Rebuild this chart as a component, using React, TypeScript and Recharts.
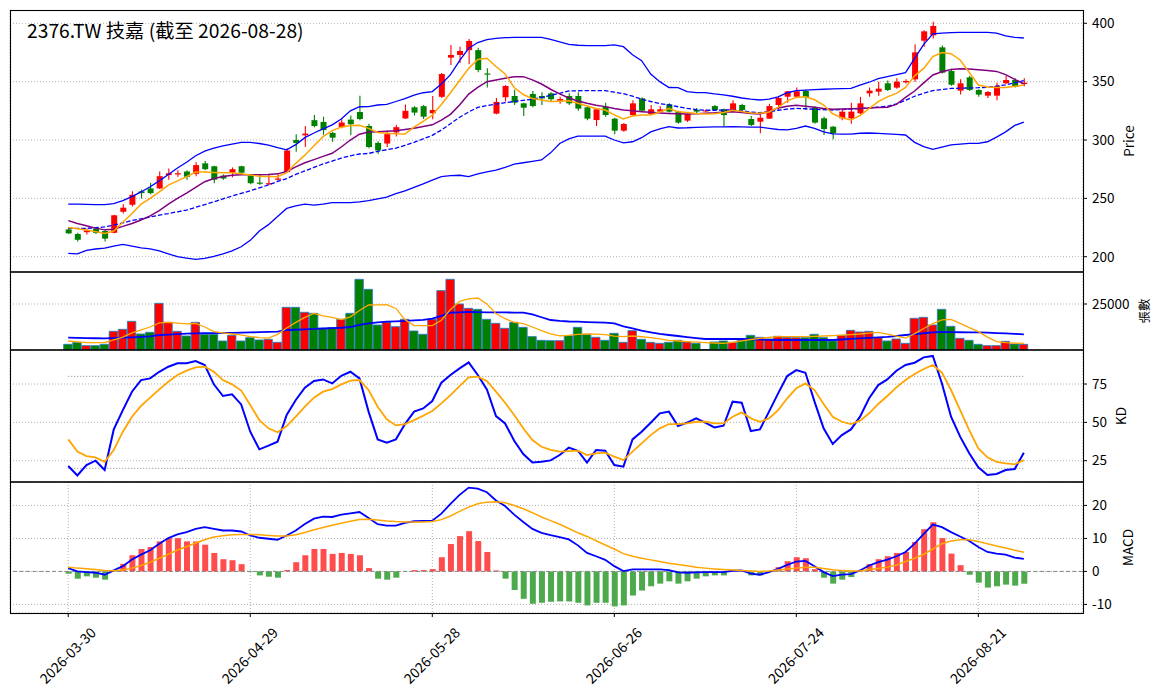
// Technical chart for 2376.TW: candles + BB/MA, volume, KD, MACD

import React from 'react';
import {
  ComposedChart,
  Bar,
  Line,
  XAxis,
  YAxis,
  CartesianGrid,
  ReferenceLine,
  Cell,
} from 'recharts';

// x-axis tick labels (every 20 trading days)
const tickIndex = [0, 20, 40, 60, 80, 100];
const tickLabels = ['2026-03-30', '2026-04-29', '2026-05-28', '2026-06-26', '2026-07-24', '2026-08-21'];

// daily prices
const opens = [
  223.4, 219.5, 221, 224, 222, 220.5, 238.5, 244.5, 256, 258.5,
  258.5, 270, 270.5, 273, 271, 280, 277.5, 269.5, 272, 277.5,
  269.5, 263.5, 262, 266, 272.5, 300, 304, 317, 315.5, 306,
  311, 317.5, 324, 312, 297.5, 297, 306.5, 318.5, 328, 329,
  322.9, 337, 370.6, 372.9, 377, 377, 357, 322.6, 336.6, 337.7,
  331.4, 339.4, 337.7, 340, 333.7, 337.7, 337.7, 328, 317.1, 328.6,
  318.3, 308, 321.4, 335.7, 322.3, 324.3, 330.6, 324.3, 316.6, 325.7,
  325, 329.1, 326.3, 325.7, 330, 318, 315.7, 318.3, 330, 337.1,
  337.1, 342, 328, 318.6, 311.4, 318.6, 318.6, 322.9, 340, 341.4,
  348.6, 344.9, 349.4, 352, 385.1, 389.7, 379.4, 359.1, 342.3, 353.7,
  342.9, 338, 338, 348.6, 351.4, 348,
];
const highs = [
  224.5, 220.5, 224, 225, 223, 236, 245, 256, 257.5, 263.4,
  273, 275.5, 274, 274, 281, 282, 278, 270.5, 276.5, 278,
  270, 270, 271, 271, 293, 305, 312, 321.4, 320, 307,
  318, 321, 338, 314, 299, 308, 313, 330.5, 329, 330,
  337.7, 357.5, 381.4, 380, 386.5, 379, 361.4, 336, 347, 343,
  332, 342, 341, 341, 337, 340, 341, 329, 327, 332,
  319, 314.5, 334, 336.5, 330, 329, 331.5, 325, 323, 327.5,
  326, 330, 327, 334, 331, 320.6, 322, 331, 337, 342,
  345, 343, 329, 320, 312, 326, 332, 337, 345, 350,
  351, 353, 352, 382, 394, 401.4, 381, 361, 352, 355,
  343.5, 342, 349, 355, 353, 352.9,
];
const lows = [
  219.5, 213, 219, 219.5, 213, 220, 237, 243, 250, 253.5,
  258, 266, 268.5, 266, 269, 274, 263, 266, 268, 271,
  262, 261.5, 261.5, 265, 272, 290, 294, 311, 304.5, 298.5,
  310, 304, 317, 293, 288, 294, 303, 318, 321, 318,
  317.7, 336, 364.3, 366, 365, 358, 345, 322, 333, 330,
  320.6, 328, 330, 333, 331, 330, 325, 317, 312, 320,
  305, 307, 321, 324, 321.5, 323.5, 323.5, 314, 315.5, 322.3,
  324, 325, 311.4, 325, 325, 312, 305.7, 318, 326, 332,
  336.5, 325.7, 314, 304.3, 300.6, 317, 314, 322, 337, 338,
  342, 344, 348.5, 350, 380, 387, 357, 346.5, 339, 342,
  337, 336, 334, 348, 345, 346,
];
const closes = [
  220, 214.5, 222.5, 220.5, 215.5, 235.5, 242, 253, 254.5, 254.5,
  269, 271.5, 271.5, 268.5, 278.5, 275, 266, 267, 275, 272,
  263, 262.5, 263, 267, 291, 297.5, 305.5, 312, 308.5, 302,
  315, 313.5, 318, 294, 291, 305, 311, 325, 323.5, 320,
  325.7, 356.5, 372.9, 376.3, 384.9, 360, 356, 332.6, 346.3, 332,
  327.7, 329.1, 335.7, 334.9, 335.1, 331.4, 326.9, 318.3, 326.3, 321.4,
  308, 313.7, 331.4, 325.1, 326.3, 326.3, 324.3, 314.9, 322.3, 324.3,
  325.3, 325.7, 321.4, 331.4, 325.7, 312.9, 319.1, 329.1, 336, 341.7,
  341.7, 336.6, 314.9, 309.4, 305.7, 324.3, 324.3, 331.4, 342.3, 344,
  342.9, 350, 350.6, 375.1, 393.1, 397.7, 357.7, 347.4, 348.6, 342.9,
  338.9, 341.1, 346.3, 351.4, 345.7, 349.1,
];

// moving averages and Bollinger bands as drawn
const ma5 = [
  225, 224, 222.9, 221.5, 220, 222, 229.5, 237, 245, 250,
  255.5, 261.4, 265, 268.6, 272.5, 272.5, 272.2, 272, 272, 271,
  270, 269, 268.8, 268.6, 272, 280, 287, 295, 302.9, 308,
  311, 312.5, 312.6, 310, 306.5, 305.7, 305.3, 305.1, 311, 316,
  321.4, 330.5, 340.5, 351, 361.4, 369, 370, 363, 356.6, 345,
  339, 335.5, 334.3, 332.9, 333.3, 333.7, 331.5, 329.1, 327, 325.7,
  321.5, 318, 320.5, 321.4, 321.4, 324, 326.9, 324.3, 323.5, 322.8,
  322.3, 322.6, 323.5, 325.5, 324.5, 323.2, 322.9, 324, 328, 333.5,
  336.5, 337, 334.5, 330, 322.5, 319, 317.1, 321, 327, 332.9,
  337, 340, 345, 355, 361.4, 371.5, 375, 374, 368.6, 358,
  347.1, 345.5, 345.1, 345.1, 346, 347.1,
];
const ma10 = [
  230.9, 228.5, 226.5, 224.5, 223, 223.5, 226, 228.5, 231.5, 235,
  239.5, 245, 250, 254.5, 259.5, 264.3, 267, 268.8, 269.8, 270.3,
  270.3, 270.3, 270.5, 271, 273, 277, 280.5, 283.2, 286, 288.6,
  294, 300, 305, 306.8, 307, 307.5, 308, 309, 310, 311.5,
  313, 317, 322, 330, 339.4, 345, 350, 351.5, 352.9, 354.2,
  354.3, 351.5, 348, 343.5, 339.5, 336, 333.5, 331.5, 329.8, 328.6,
  327, 325.8, 325, 324.3, 323.7, 323.2, 322.8, 322.5, 322.3, 322.6,
  323, 323.3, 323.8, 324.3, 323.5, 322.8, 322.3, 324.5, 327.5, 329,
  329.7, 329, 328, 327, 326.3, 326.5, 326.8, 327.1, 327.5, 327.8,
  328, 330.5, 336.5, 342, 349, 355.7, 358.5, 360.5, 361.1, 360.8,
  360.3, 359.6, 358.8, 356, 352, 348,
];
const bbUpper = [
  245.1, 245, 244.8, 244.6, 244.6, 245.5, 248, 251.5, 255.5, 260,
  265, 270.5, 276, 281, 286.5, 290.5, 293, 295, 296.5, 298,
  298, 297, 295.7, 293.5, 291.5, 296, 302, 306, 309.5, 313,
  318, 325, 328.5, 328.6, 330, 330.5, 333, 335.5, 338.5, 340.5,
  341.5, 348, 356, 368, 378.6, 383.5, 386, 387, 387.7, 387.9,
  388, 388, 388, 386.3, 384, 382, 381.2, 380.9, 380.9, 380.9,
  381.5, 380, 373, 368, 356.5, 350, 345, 344.9, 341.4, 340.6,
  340.6, 339.5, 338.6, 337.5, 336, 335, 334.3, 335, 337, 340.5,
  342.3, 342.8, 343.2, 343.5, 343.8, 344.1, 344.3, 347, 349.5, 352.5,
  354.3, 356, 357.7, 370, 382, 390.9, 391.5, 392, 392.2, 392.3,
  392.3, 392.3, 391.5, 389.3, 388, 387.4,
];
const bbMid = [
  224.3, 224.3, 224.3, 224.8, 225.5, 227, 229, 231, 232.5, 234,
  235.7, 237, 238.5, 240, 242.3, 244.7, 247, 249.5, 252, 254.3,
  256.5, 259, 261.5, 264.5, 267, 270.5, 273.5, 276.5, 279.5, 282,
  284.5, 286.5, 288, 288.5, 290.3, 291.7, 293, 295.5, 298, 301,
  304, 308.5, 314, 319.5, 324, 328, 329.5, 330.7, 332, 333,
  334, 334.9, 336.5, 338.3, 340, 342, 342.2, 342.3, 342.3, 342.3,
  341, 339.7, 337.5, 335, 333, 331.2, 330, 328.5, 327.1, 326,
  325.5, 325.5, 325.7, 325.7, 325, 324, 323.4, 324.2, 325.5, 326.5,
  327.1, 326.8, 326.3, 326, 325.7, 326.1, 326.5, 327, 327.6, 328.2,
  328.9, 331, 334, 337.5, 340, 342.3, 343.3, 344.2, 344.4, 344.6,
  344.8, 345.2, 346.2, 347.2, 349, 350.9,
];
const bbLower = [
  202.9, 202.4, 205.5, 206.6, 207.4, 209, 210.5, 209, 207.5, 206.8,
  205, 202.5, 200, 198.8, 197.7, 198.5, 200.3, 202.5, 205, 208.5,
  214, 222, 227.5, 234.5, 241.4, 243.5, 245, 244.2, 245, 246.3,
  246.3, 246.3, 247, 248, 249.5, 251, 254, 256.5, 259.5, 262.5,
  265.7, 268.6, 269.5, 269.8, 268.6, 271, 272.6, 274.2, 276.5, 279.4,
  280.5, 281.7, 282.9, 289, 297, 301, 303.4, 303.4, 303.4, 303.4,
  300, 297.5, 298.5, 302, 307, 309.5, 311.4, 310.3, 310.5, 310.9,
  311, 311.2, 311.3, 311.4, 311.3, 311.1, 311, 310, 309, 308.6,
  310, 312, 310, 307, 305.3, 305.1, 305.1, 305.8, 306, 305.6,
  305.2, 304.8, 304.3, 298, 294.3, 292, 294, 295.9, 296.5, 297.1,
  297.1, 298.5, 302.5, 307, 312.5, 315.4,
];

// volume (張) and its averages
const volumes = [
  3080, 4170, 2360, 2360, 3080, 10150, 11230, 15580, 8700, 9600,
  25370, 15040, 10150, 7610, 15040, 8520, 8520, 4890, 7970, 4890,
  6700, 5440, 5800, 4170, 23190, 23190, 20480, 19930, 11780, 12140,
  16670, 19930, 38410, 32980, 13590, 15040, 12680, 16670, 10330, 8520,
  16670, 32250, 38410, 25000, 22650, 22100, 16670, 14500, 11780, 15040,
  12320, 7250, 5250, 5070, 5070, 7790, 12320, 8520, 6890, 5250,
  9060, 4170, 10510, 5800, 4170, 3620, 4170, 5250, 4350, 3620,
  200, 4350, 4890, 4170, 5250, 7970, 6890, 5980, 7430, 6890,
  6700, 6700, 8520, 6700, 4890, 7970, 10690, 9790, 10150, 6700,
  4890, 5980, 3620, 17210, 17760, 13590, 22100, 12870, 6340, 5250,
  3080, 2360, 2360, 4710, 3260, 3080,
];
const volMa5 = [
  4890, 4400, 3990, 3990, 3990, 5500, 7000, 9300, 10900, 12500,
  14700, 15040, 14600, 14150, 14400, 12500, 10000, 9300, 8700, 8200,
  7300, 6700, 6500, 8500, 12000, 15000, 17700, 19930, 18500, 17700,
  16500, 18000, 21500, 24460, 24500, 24640, 22600, 16500, 13230, 13230,
  13230, 16200, 22000, 26400, 27800, 28270, 25000, 19800, 17000, 15000,
  14300, 12500, 10500, 8800, 7700, 7900, 8520, 8700, 8600, 8400,
  7500, 7300, 7600, 7200, 6700, 6000, 5200, 4900, 4600, 4300,
  4000, 3800, 3620, 4200, 5000, 5700, 6340, 6800, 7250, 7250,
  7250, 7300, 7450, 7600, 7800, 8100, 8400, 8700, 9200, 9600,
  8600, 7500, 6500, 8900, 11700, 14300, 16400, 16600, 14500, 12200,
  9970, 7000, 4530, 4000, 3700, 3620,
];
const volMa20 = [
  6700, 6600, 6500, 6400, 6340, 6500, 6700, 6900, 7100, 7400,
  8150, 8400, 8600, 8850, 9060, 9150, 9200, 9300, 9350, 9420,
  9550, 9700, 9800, 9970, 10870, 11000, 11200, 11500, 11700, 11900,
  12100, 12500, 13700, 14500, 15000, 15400, 15600, 15800, 16100, 16400,
  17000, 18500, 20300, 20500, 20660, 20600, 20480, 20450, 20400, 20350,
  20300, 19400, 17800, 16300, 15800, 15500, 15400, 15200, 15000, 14900,
  14500, 12900, 11700, 10500, 9600, 8800, 8150, 7600, 7000, 6500,
  5980, 5980, 5980, 5980, 5980, 5850, 5700, 5550, 5440, 5440,
  5440, 5440, 5440, 5440, 5440, 5700, 6000, 6340, 6600, 6850,
  7100, 7600, 8150, 8600, 9100, 9600, 9790, 9700, 9650, 9600,
  9600, 9400, 9200, 9000, 8800, 8520,
];

// KD stochastic
const kValues = [
  21.5, 15.4, 22.2, 25, 18.9, 45.4, 58, 70, 77.6, 78.7,
  83, 86.3, 88.5, 88.5, 90, 87.4, 74.8, 67.2, 68.3, 61.7,
  43.9, 32.4, 34.8, 37.4, 54.8, 64.6, 72.6, 77, 78, 75.4,
  80.4, 83, 78.7, 57, 38.9, 36.7, 38.9, 48.9, 57, 59.1,
  63.9, 75.9, 80.9, 85.2, 89.1, 80.9, 71.5, 54.1, 49.3, 38,
  29.3, 23.9, 24.3, 25.2, 28.7, 33.5, 31.5, 23.7, 32, 31.5,
  22.2, 21.1, 38.9, 43.9, 49.8, 55.9, 57, 47.6, 49.8, 52.6,
  49.8, 46.7, 47.8, 63.5, 62.8, 44.3, 45.4, 57, 68.9, 80.2,
  84.1, 82.4, 63.5, 46.1, 35.9, 41.7, 45.4, 53.7, 65.7, 74.3,
  78, 83.7, 87.4, 88.9, 92.4, 93.3, 75.4, 53.7, 40.7, 29.8,
  20.7, 15.7, 16.3, 18.9, 19.6, 30.2,
];
const dValues = [
  38.9, 30.9, 28, 27.2, 24.3, 32, 43.9, 53.7, 60.7, 66.1,
  71.5, 76.5, 80.9, 83.7, 85.9, 86.3, 83, 77.6, 74.8, 70.7,
  61.3, 51.5, 46.1, 43.5, 47.6, 53.7, 60.2, 66.1, 70, 71.7,
  74.8, 77.2, 77.6, 71.1, 60.2, 52, 48, 48.9, 51.5, 54.3,
  57.4, 62.4, 67.8, 73.7, 79.3, 79.8, 77, 70, 62.8, 54.8,
  46.1, 38.5, 34.1, 32, 30.9, 31.3, 31.5, 28.7, 29.8, 30.2,
  27.6, 25.4, 30.9, 36.3, 41.7, 46.1, 48.9, 48.9, 49.3, 50.4,
  50.4, 49.3, 49.3, 53.7, 56.5, 52.6, 50.4, 52.6, 58, 65.7,
  72.2, 75.4, 71.1, 62, 53.7, 50.4, 48.9, 51.1, 55.9, 62,
  67.2, 72.8, 77.6, 81.5, 84.8, 87.4, 82.4, 71.1, 58, 45,
  33, 27.2, 24.3, 23.3, 22.6, 25.4,
];

// MACD
const difValues = [
  1.0, 0, -0.2, -0.4, -1.0, 0.3, 1.6, 3.6, 5.1, 6.4,
  8.4, 10.1, 11.2, 11.9, 12.9, 13.4, 12.9, 12.4, 12.4, 12.1,
  10.9, 10.2, 9.9, 9.6, 10.9, 12.4, 14.4, 16.0, 16.6, 16.5,
  17.2, 17.6, 18.0, 16.2, 14.3, 13.9, 13.9, 14.7, 15.2, 15.3,
  15.4, 17.5, 20.5, 23.2, 25.4, 25.1, 24.0, 21.5, 19.8, 17.2,
  15.0, 12.9, 11.7, 11.0, 10.4, 9.7, 7.9, 5.6, 4.6, 3.5,
  1.6, 0.1, 0.6, 0.6, 0.6, 0.6, 0.4, -0.3, -0.4, -0.3,
  -0.2, -0.2, -0.2, 0.2, 0.3, -0.7, -1.0, -0.2, 0.8, 2.0,
  3.0, 3.2, 1.6, -0.2, -1.4, -1.0, -0.8, 0.3, 1.8, 2.8,
  3.6, 4.6, 5.9, 8.4, 11.4, 14.2, 13.4, 11.9, 10.6, 9.2,
  7.4, 5.9, 5.4, 5.1, 4.2, 3.8,
];
const deaValues = [
  1.3, 1.0, 0.8, 0.6, 0.3, 0.2, 0.4, 1.0, 1.8, 2.8,
  4.0, 5.2, 6.5, 7.5, 8.6, 9.6, 10.4, 10.8, 11.1, 11.2,
  11.2, 11.1, 10.9, 10.7, 10.7, 11.1, 11.8, 12.6, 13.3, 14.0,
  14.6, 15.2, 15.7, 15.8, 15.6, 15.3, 15.1, 15.0, 15.0, 15.0,
  15.1, 15.7, 16.8, 18.2, 19.5, 20.5, 21.0, 21.1, 20.8, 20.0,
  19.0, 17.8, 16.5, 15.4, 14.3, 13.0, 11.7, 10.6, 9.3, 8.0,
  6.8, 5.4, 4.6, 4.0, 3.5, 3.0, 2.5, 2.1, 1.7, 1.3,
  1.0, 0.75, 0.55, 0.4, 0.25, 0.1, 0.0, 0.1, 0.4, 0.7,
  1.0, 1.25, 1.3, 0.9, 0.5, 0.3, 0.1, 0.1, 0.6, 0.9,
  1.3, 1.9, 3.0, 4.0, 5.2, 6.8, 8.4, 9.2, 9.6, 9.6,
  9.1, 8.4, 7.7, 7.1, 6.4, 5.8,
];
const oscValues = [
  -0.7, -2.2, -1.5, -1.9, -2.5, 0.1, 2.3, 4.9, 6.8, 7.4,
  9.1, 10.1, 10.1, 9.1, 9.1, 8.1, 5.6, 3.7, 3.4, 2.2,
  -0.2, -1.2, -1.6, -1.9, 0.4, 2.8, 4.9, 6.8, 6.8, 5.3,
  5.6, 5.3, 4.9, 1.0, -2.2, -2.5, -1.9, -0.1, 0.4, 0.4,
  0.7, 4.3, 8.3, 10.7, 12.2, 9.2, 5.9, 0.3, -2.2, -5.6,
  -8.3, -9.8, -9.5, -9.2, -9.1, -9.1, -9.5, -10.3, -9.5, -9.5,
  -10.6, -10.3, -7.3, -5.8, -4.5, -3.7, -3.0, -3.7, -3.0, -2.2,
  -1.5, -1.2, -1.2, 0.2, 0.2, -1.2, -1.2, -0.1, 1.3, 3.1,
  4.3, 4.0, 0.7, -1.9, -3.7, -2.5, -1.7, 0.1, 2.2, 3.7,
  4.6, 5.6, 5.9, 8.9, 12.8, 14.9, 10.1, 5.4, 1.9, -1.0,
  -3.4, -4.9, -4.5, -4.0, -4.3, -3.7,
];

const rows = closes.map((close, i) => ({
  i,
  open: opens[i],
  high: highs[i],
  low: lows[i],
  close,
  range: [lows[i], highs[i]],
  up: close >= opens[i],
  ma5: ma5[i],
  ma10: ma10[i],
  bbUpper: bbUpper[i],
  bbMid: bbMid[i],
  bbLower: bbLower[i],
  vol: volumes[i],
  volMa5: volMa5[i],
  volMa20: volMa20[i],
  k: kValues[i],
  d: dValues[i],
  dif: difValues[i],
  dea: deaValues[i],
  osc: oscValues[i],
}));

const W = 1164;
const PLOT_LEFT = 10;
const AXIS_W = 81;
const X_DOMAIN: [number, number] = [-6.4, 111.5];
const FONT = "'Noto Sans CJK TC', 'Noto Sans', sans-serif";
const GRID = '#b0b0b0';
const UP = '#ff0000';
const DOWN = '#008000';

const tickStyle = { fill: '#000', fontSize: 13.5, fontFamily: FONT };

function axisLabel(value: string, dx: number, fontSize = 13.5) {
  return {
    value,
    angle: -90,
    position: 'center' as const,
    dx,
    style: { fill: '#000', fontSize, fontFamily: FONT, textAnchor: 'middle' },
  };
}

function Candle(props: any) {
  const { x, y, width, height, payload } = props;
  if (payload == null || x == null) return null;
  const { open, close, high, low } = payload;
  const color = close >= open ? UP : DOWN;
  const top = height >= 0 ? y : y + height;
  const h = Math.abs(height);
  const span = high - low || 1;
  const toPx = (v: number) => top + ((high - v) / span) * h;
  const cx = x + width / 2;
  const bodyTop = toPx(Math.max(open, close));
  const bodyBot = toPx(Math.min(open, close));
  return (
    <g>
      <line x1={cx} x2={cx} y1={top} y2={top + h} stroke={color} strokeWidth={1.1} />
      <rect x={x} y={bodyTop} width={width} height={Math.max(bodyBot - bodyTop, 1)} fill={color} />
    </g>
  );
}

function DateTick(props: any) {
  const { x, y, payload } = props;
  const idx = tickIndex.indexOf(payload.value);
  const label = idx >= 0 ? tickLabels[idx] : '';
  const cy = y + 36;
  return (
    <text
      x={x - 1}
      y={cy}
      textAnchor="middle"
      dominantBaseline="central"
      transform={`rotate(-45 ${x - 1} ${cy})`}
      style={{ fill: '#000', fontSize: 14, fontFamily: FONT }}
    >
      {label}
    </text>
  );
}

function hiddenX() {
  return (
    <XAxis
      type="number"
      dataKey="i"
      domain={X_DOMAIN}
      ticks={tickIndex}
      allowDataOverflow
      height={0}
      tick={false}
      tickLine={false}
      axisLine={false}
    />
  );
}

const margin = { top: 0, right: 0, bottom: 0, left: PLOT_LEFT };
const firstI = rows[0].i;
const lastI = rows[rows.length - 1].i;

export default function App() {
  return (
    <div style={{ position: 'absolute', left: 0, top: 0, width: W, height: 698, background: '#fff', fontFamily: FONT }}>
      {/* price panel */}
      <div style={{ position: 'absolute', left: 0, top: 10 }}>
        <ComposedChart width={W} height={262} data={rows} margin={margin}>
          <CartesianGrid stroke={GRID} strokeDasharray="1 2" />
          {hiddenX()}
          <YAxis
            orientation="right"
            width={AXIS_W}
            domain={[186.9, 411.4]}
            ticks={[200, 250, 300, 350, 400]}
            allowDataOverflow
            axisLine={false}
            tickSize={4}
            tickMargin={5}
            tick={tickStyle}
            tickLine={{ stroke: '#000' }}
            label={axisLabel('Price', 5.5)}
          />
          <Line dataKey="bbUpper" stroke="#0000ff" strokeWidth={1.3} dot={false} isAnimationActive={false} />
          <Line dataKey="bbLower" stroke="#0000ff" strokeWidth={1.3} dot={false} isAnimationActive={false} />
          <Line dataKey="bbMid" stroke="#0000ff" strokeWidth={1.3} strokeDasharray="4.5 2" dot={false} isAnimationActive={false} />
          <Line dataKey="ma10" stroke="#800080" strokeWidth={1.5} dot={false} isAnimationActive={false} />
          <Line dataKey="ma5" stroke="#ffa500" strokeWidth={1.5} dot={false} isAnimationActive={false} />
          <Bar dataKey="range" barSize={6} shape={<Candle />} isAnimationActive={false} />
        </ComposedChart>
      </div>

      {/* volume panel */}
      <div style={{ position: 'absolute', left: 0, top: 272 }}>
        <ComposedChart width={W} height={78} data={rows} margin={margin}>
          <CartesianGrid stroke={GRID} strokeDasharray="1 2" />
          {hiddenX()}
          <YAxis
            orientation="right"
            width={AXIS_W}
            domain={[0, 42400]}
            ticks={[0, 25000]}
            allowDataOverflow
            axisLine={false}
            tickSize={4}
            tickMargin={5}
            tick={tickStyle}
            tickLine={{ stroke: '#000' }}
            label={axisLabel('張數', 21, 12.5)}
          />
          <Bar dataKey="vol" barSize={8.4} stroke="#2b7bba" strokeWidth={0.9} isAnimationActive={false}>
            {rows.map((r) => (
              <Cell key={r.i} fill={r.up ? UP : DOWN} />
            ))}
          </Bar>
          <Line dataKey="volMa20" stroke="#0000ff" strokeWidth={1.8} dot={false} isAnimationActive={false} />
          <Line dataKey="volMa5" stroke="#ffa500" strokeWidth={1.3} dot={false} isAnimationActive={false} />
        </ComposedChart>
      </div>

      {/* KD panel */}
      <div style={{ position: 'absolute', left: 0, top: 350 }}>
        <ComposedChart width={W} height={132} data={rows} margin={margin}>
          <CartesianGrid stroke={GRID} strokeDasharray="1 2" />
          {hiddenX()}
          <YAxis
            orientation="right"
            width={AXIS_W}
            domain={[11.1, 97.2]}
            ticks={[25, 50, 75]}
            allowDataOverflow
            axisLine={false}
            tickSize={4}
            tickMargin={5}
            tick={tickStyle}
            tickLine={{ stroke: '#000' }}
            label={axisLabel('KD', -2.5)}
          />
          <ReferenceLine segment={[{ x: firstI, y: 80 }, { x: lastI, y: 80 }]} stroke="#888" strokeDasharray="1 2" />
          <ReferenceLine segment={[{ x: firstI, y: 20 }, { x: lastI, y: 20 }]} stroke="#888" strokeDasharray="1 2" />
          <Line dataKey="k" stroke="#0000ff" strokeWidth={2} dot={false} isAnimationActive={false} />
          <Line dataKey="d" stroke="#ffa500" strokeWidth={1.8} dot={false} isAnimationActive={false} />
        </ComposedChart>
      </div>

      {/* MACD panel */}
      <div style={{ position: 'absolute', left: 0, top: 482 }}>
        <ComposedChart width={W} height={216} data={rows} margin={margin}>
          <CartesianGrid stroke={GRID} strokeDasharray="1 2" />
          <XAxis
            type="number"
            dataKey="i"
            domain={X_DOMAIN}
            ticks={tickIndex}
            allowDataOverflow
            height={85}
            axisLine={false}
            tickSize={4}
            tickMargin={2}
            tickLine={{ stroke: '#000' }}
            tick={<DateTick />}
          />
          <YAxis
            orientation="right"
            width={AXIS_W}
            domain={[-12.6, 27.1]}
            ticks={[-10, 0, 10, 20]}
            allowDataOverflow
            axisLine={false}
            tickSize={4}
            tickMargin={5}
            tick={tickStyle}
            tickLine={{ stroke: '#000' }}
            label={axisLabel('MACD', 4.5)}
          />
          <ReferenceLine y={0} stroke="#888" strokeDasharray="4 2.5" />
          <Bar dataKey="osc" barSize={6} isAnimationActive={false}>
            {rows.map((r) => (
              <Cell key={r.i} fill={r.osc >= 0 ? '#ff4d4d' : '#4caa4c'} />
            ))}
          </Bar>
          <Line dataKey="dif" stroke="#0000ff" strokeWidth={1.8} dot={false} isAnimationActive={false} />
          <Line dataKey="dea" stroke="#ffa500" strokeWidth={1.5} dot={false} isAnimationActive={false} />
        </ComposedChart>
      </div>

      {/* panel frames and title */}
      <svg width={W} height={698} style={{ position: 'absolute', left: 0, top: 0, pointerEvents: 'none' }}>
        <rect x={10.5} y={10.5} width={1073} height={261.5} fill="none" stroke="#000" strokeWidth={1.1} />
        <rect x={10.5} y={272} width={1073} height={78} fill="none" stroke="#000" strokeWidth={1.1} />
        <rect x={10.5} y={350} width={1073} height={132} fill="none" stroke="#000" strokeWidth={1.1} />
        <rect x={10.5} y={482} width={1073} height={131.5} fill="none" stroke="#000" strokeWidth={1.1} />
        <text x={27} y={38} style={{ fill: '#000', fontSize: 19.3, fontFamily: FONT }}>
          2376.TW 技嘉 (截至 2026-08-28)
        </text>
      </svg>
    </div>
  );
}
